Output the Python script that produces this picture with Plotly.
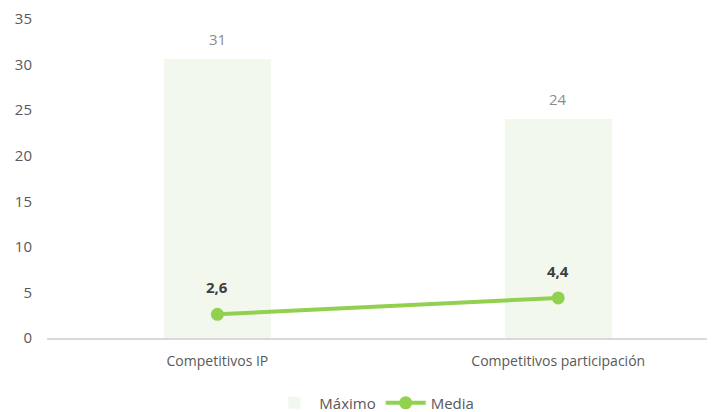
import plotly.graph_objects as go

categories = ["Competitivos IP", "Competitivos participación"]
maximo = [30.6, 24.0]
media = [2.6, 4.4]
y_ticks = [0, 5, 10, 15, 20, 25, 30, 35]

FONT = "Open Sans"

fig = go.Figure()
fig.add_trace(go.Bar(
    x=categories, y=maximo, name="Máximo",
    marker=dict(color="#f3f8ee", line=dict(width=0)),
    width=0.315,
    hoverinfo="skip",
))
fig.add_trace(go.Scatter(
    x=categories, y=media, name="Media",
    mode="lines+markers",
    line=dict(color="#92d050", width=4),
    marker=dict(color="#92d050", size=13),
    hoverinfo="skip",
))

for c, v in zip(categories, maximo):
    fig.add_annotation(x=c, y=v, text=f"{v:.0f}", showarrow=False,
                       yshift=20, font=dict(family=FONT, size=15, color="#8c8c8c"))
for c, v in zip(categories, media):
    fig.add_annotation(x=c, y=v, text="<b>" + f"{v:.1f}".replace(".", ",") + "</b>",
                       showarrow=False, yshift=27,
                       font=dict(family=FONT, size=15, color="#404040"))

fig.update_layout(
    width=715, height=412,
    margin=dict(l=39, r=8, t=11, b=82),
    paper_bgcolor="white", plot_bgcolor="white",
    font=dict(family=FONT, size=14, color="#595959"),
    separators=",.",
    bargap=0,
    showlegend=True,
    legend=dict(orientation="h", x=0.49, xanchor="center",
                yref="container", y=0.041, yanchor="middle",
                font=dict(family=FONT, size=15, color="#595959"),
                itemwidth=40, traceorder="normal"),
    xaxis=dict(range=[-0.5, 1.46], showgrid=False, showline=True, automargin=False,
               linecolor="#d9d9d9", linewidth=1.5, ticks="", ticklabelstandoff=9,
               tickfont=dict(family=FONT, size=14, color="#595959")),
    yaxis=dict(range=[0, 35], tickvals=y_ticks, showgrid=False, zeroline=False,
               showline=False, ticks="", ticklabelstandoff=14, automargin=False,
               tickfont=dict(family=FONT, size=15, color="#595959")),
)

fig.write_html("out.html")
